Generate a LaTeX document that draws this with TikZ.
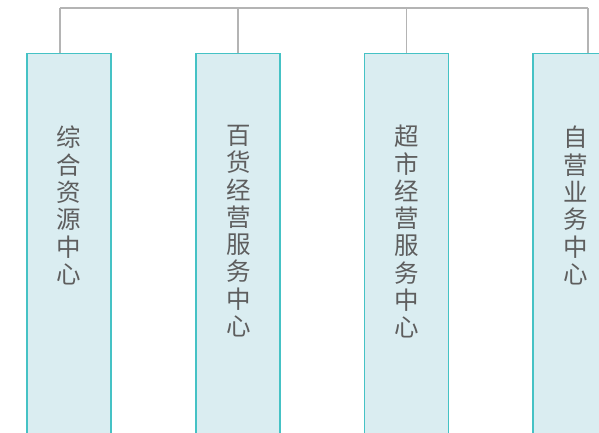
\documentclass[tikz,border=0pt]{standalone}
\usepackage{fontspec}
\newfontfamily\cjk{Noto Sans CJK SC}
\definecolor{boxfill}{HTML}{DAEDF1}
\definecolor{boxline}{HTML}{45C2C5}
\definecolor{connline}{HTML}{B4B4B4}
\definecolor{txtgray}{HTML}{5E5E5E}
\tikzset{
  unitbox/.style={draw=boxline, fill=boxfill, line width=1.8pt, minimum width=84pt, minimum height=390pt, inner sep=0pt, anchor=north},
  vtext/.style={text=txtgray, font=\cjk\fontsize{24.5}{27.3}\selectfont, align=center, inner sep=0pt, anchor=north},
  conn/.style={draw=connline, line width=1.3pt}
}
\begin{document}
\begin{tikzpicture}[x=1pt,y=-1pt]
\useasboundingbox (0,0) rectangle (599,432);
\clip (0,0) rectangle (599,432);
\fill[white] (0,0) rectangle (599,432);
\node[unitbox] (b1) at (69,52.5) {};
\node[unitbox] (b2) at (238,52.5) {};
\node[unitbox] (b3) at (406.5,52.5) {};
\node[unitbox] (b4) at (575,52.5) {};
\node[vtext] (l1) at (69,126) {综\\合\\资\\源\\中\\心};
\node[vtext] (l2) at (239,125) {百\\货\\经\\营\\服\\务\\中\\心};
\node[vtext] (l3) at (407,125) {超\\市\\经\\营\\服\\务\\中\\心};
\node[vtext] (l4) at (576,126) {自\\营\\业\\务\\中\\心};
\coordinate (t1) at (60,8);
\coordinate (t2) at (238,8);
\coordinate (t3) at (406.5,8);
\coordinate (t4) at (588,8);
\draw[conn] (t1) -- (t4);
\draw[conn] (t1) -- (t1 |- b1.north);
\draw[conn] (t2) -- (b2.north);
\draw[conn] (t3) -- (b3.north);
\draw[conn] (t4) -- (t4 |- b4.north);
\end{tikzpicture}
\end{document}
